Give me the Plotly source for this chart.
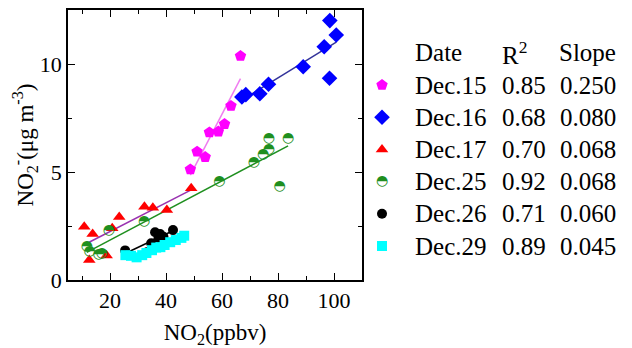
import numpy as np
import plotly.graph_objects as go

# ---- data ----
dec15_x = [48.7, 51.1, 54.0, 55.5, 58.7, 60.9, 63.2, 66.6]
dec15_y = [5.12, 5.94, 5.69, 6.83, 6.87, 7.22, 8.06, 10.37]

dec16_x = [67.1, 68.5, 73.5, 76.6, 89.0, 96.5, 98.4, 98.5, 100.8]
dec16_y = [8.47, 8.58, 8.62, 9.06, 9.87, 10.80, 9.34, 12.01, 11.34]

dec17_x = [10.8, 13.8, 12.6, 18.8, 20.8, 23.3, 32.3, 35.3, 40.3, 49.0]
dec17_y = [2.47, 2.13, 0.93, 1.13, 2.40, 2.92, 3.39, 3.35, 3.24, 4.25]

dec25_x = [11.7, 12.7, 15.9, 17.1, 19.6, 32.2, 59.1, 71.4, 74.7, 76.7, 76.7, 83.6, 80.6]
dec25_y = [1.53, 1.30, 1.20, 1.25, 2.27, 2.73, 4.58, 5.42, 5.81, 6.04, 6.53, 6.53, 4.35]

dec26_x = [25.4, 33.2, 34.7, 36.1, 37.3, 37.9, 39.1, 42.5]
dec26_y = [1.37, 1.28, 1.70, 2.21, 1.93, 2.13, 2.00, 2.31]

dec29_x = [25.5, 27.5, 29.5, 31.5, 33.0, 35.0, 36.5, 38.0, 39.5, 41.5, 43.5, 45.5, 46.5]
dec29_y = [1.15, 1.12, 1.05, 1.15, 1.25, 1.38, 1.50, 1.52, 1.62, 1.75, 1.85, 1.95, 2.05]

dates = ["Dec.15", "Dec.16", "Dec.17", "Dec.25", "Dec.26", "Dec.29"]
r2 = ["0.85", "0.68", "0.70", "0.92", "0.71", "0.89"]
slopes = ["0.250", "0.080", "0.068", "0.068", "0.060", "0.045"]

series = [
    (dec15_x, dec15_y, "#ff00ff", "pentagon", 12, "#f07cf0"),
    (dec16_x, dec16_y, "#0000ff", "diamond", 12, "#33339a"),
    (dec17_x, dec17_y, "#ff0000", "triangle-up", 11, "#9932b0"),
    (dec25_x, dec25_y, "#1f8f1f", "half", 11, "#1f8f1f"),
    (dec26_x, dec26_y, "#000000", "circle", 10, "#000000"),
    (dec29_x, dec29_y, "#00ffff", "square", 10, "#00e0e0"),
]

SERIF = "Liberation Serif, Times New Roman, serif"
HALF = "\u25D3"

fig = go.Figure()

# fit lines (under the markers)
for xs, ys, mc, sym, sz, lc in series:
    k, b = np.polyfit(xs, ys, 1)
    xl = np.array([min(xs), max(xs)])
    fig.add_trace(go.Scatter(x=xl, y=k * xl + b, mode="lines",
                             line=dict(color=lc, width=1.5), showlegend=False,
                             hoverinfo="skip"))

for xs, ys, mc, sym, sz, lc in series:
    if sym == "half":
        fig.add_trace(go.Scatter(x=xs, y=ys, mode="text", text=[HALF] * len(xs),
                                 textfont=dict(family="DejaVu Sans", size=14, color=mc),
                                 textposition="middle center", showlegend=False))
    else:
        fig.add_trace(go.Scatter(x=xs, y=ys, mode="markers",
                                 marker=dict(symbol=sym, size=sz, color=mc,
                                             line=dict(width=0)),
                                 showlegend=False))

# legend markers on a separate small axis
rows = [6, 5, 4, 3, 2, 1]
for (xs, ys, mc, sym, sz, lc), r in zip(series, rows):
    if sym == "half":
        fig.add_trace(go.Scatter(x=[0], y=[r], mode="text", text=[HALF],
                                 textfont=dict(family="DejaVu Sans", size=14, color=mc),
                                 textposition="middle center", showlegend=False,
                                 xaxis="x2", yaxis="y2"))
    else:
        fig.add_trace(go.Scatter(x=[0], y=[r], mode="markers",
                                 marker=dict(symbol=sym, size=sz, color=mc),
                                 showlegend=False, xaxis="x2", yaxis="y2"))

annotations = []
hdr_y = 7
annotations.append(dict(x=0.622, y=hdr_y, xref="paper", yref="y2", text="Date",
                        showarrow=False, xanchor="left", yanchor="middle"))
annotations.append(dict(x=0.780, y=hdr_y, xref="paper", yref="y2", text="R<sup>2</sup>",
                        showarrow=False, xanchor="left", yanchor="middle"))
annotations.append(dict(x=0.993, y=hdr_y, xref="paper", yref="y2", text="Slope",
                        showarrow=False, xanchor="right", yanchor="middle"))
for d, r, s, row in zip(dates, r2, slopes, rows):
    annotations.append(dict(x=0.622, y=row, xref="paper", yref="y2", text=d,
                            showarrow=False, xanchor="left", yanchor="middle"))
    annotations.append(dict(x=0.780, y=row, xref="paper", yref="y2", text=r,
                            showarrow=False, xanchor="left", yanchor="middle"))
    annotations.append(dict(x=0.993, y=row, xref="paper", yref="y2", text=s,
                            showarrow=False, xanchor="right", yanchor="middle"))
for a in annotations:
    a["font"] = dict(family=SERIF, size=25, color="black")

axis_common = dict(showline=True, linecolor="black", linewidth=1.7, mirror="ticks",
                   ticks="inside", ticklen=7, tickwidth=1.2, tickcolor="black",
                   showgrid=False, zeroline=False, automargin=False,
                   tickfont=dict(family=SERIF, size=22, color="black"))

fig.update_layout(
    width=632, height=348,
    margin=dict(l=68, r=10, t=10, b=68),
    paper_bgcolor="white", plot_bgcolor="white",
    showlegend=False,
    xaxis=dict(domain=[0, 0.5307], range=[5, 110], tick0=0, dtick=20,
               minor=dict(dtick=10, ticks="inside", ticklen=4, tickcolor="black", tickwidth=1.2),
               title=dict(text="NO<sub>2</sub>(ppbv)", font=dict(family=SERIF, size=23, color="black"),
                          standoff=14),
               **axis_common),
    yaxis=dict(range=[0, 12.5], tick0=0, dtick=5,
               minor=dict(dtick=2.5, ticks="inside", ticklen=4, tickcolor="black", tickwidth=1.2),
               title=dict(text="NO<sub>2</sub><sup>-</sup>(\u03bcg m<sup>-3</sup>)",
                          font=dict(family=SERIF, size=23, color="black"), standoff=0),
               **axis_common),
    xaxis2=dict(domain=[0.5468, 0.5868], range=[-1, 1], visible=False, anchor="y2"),
    yaxis2=dict(domain=[0, 1], range=[-0.056, 8.33], visible=False, anchor="x2"),
    annotations=annotations,
)

fig.write_html("out.html")
